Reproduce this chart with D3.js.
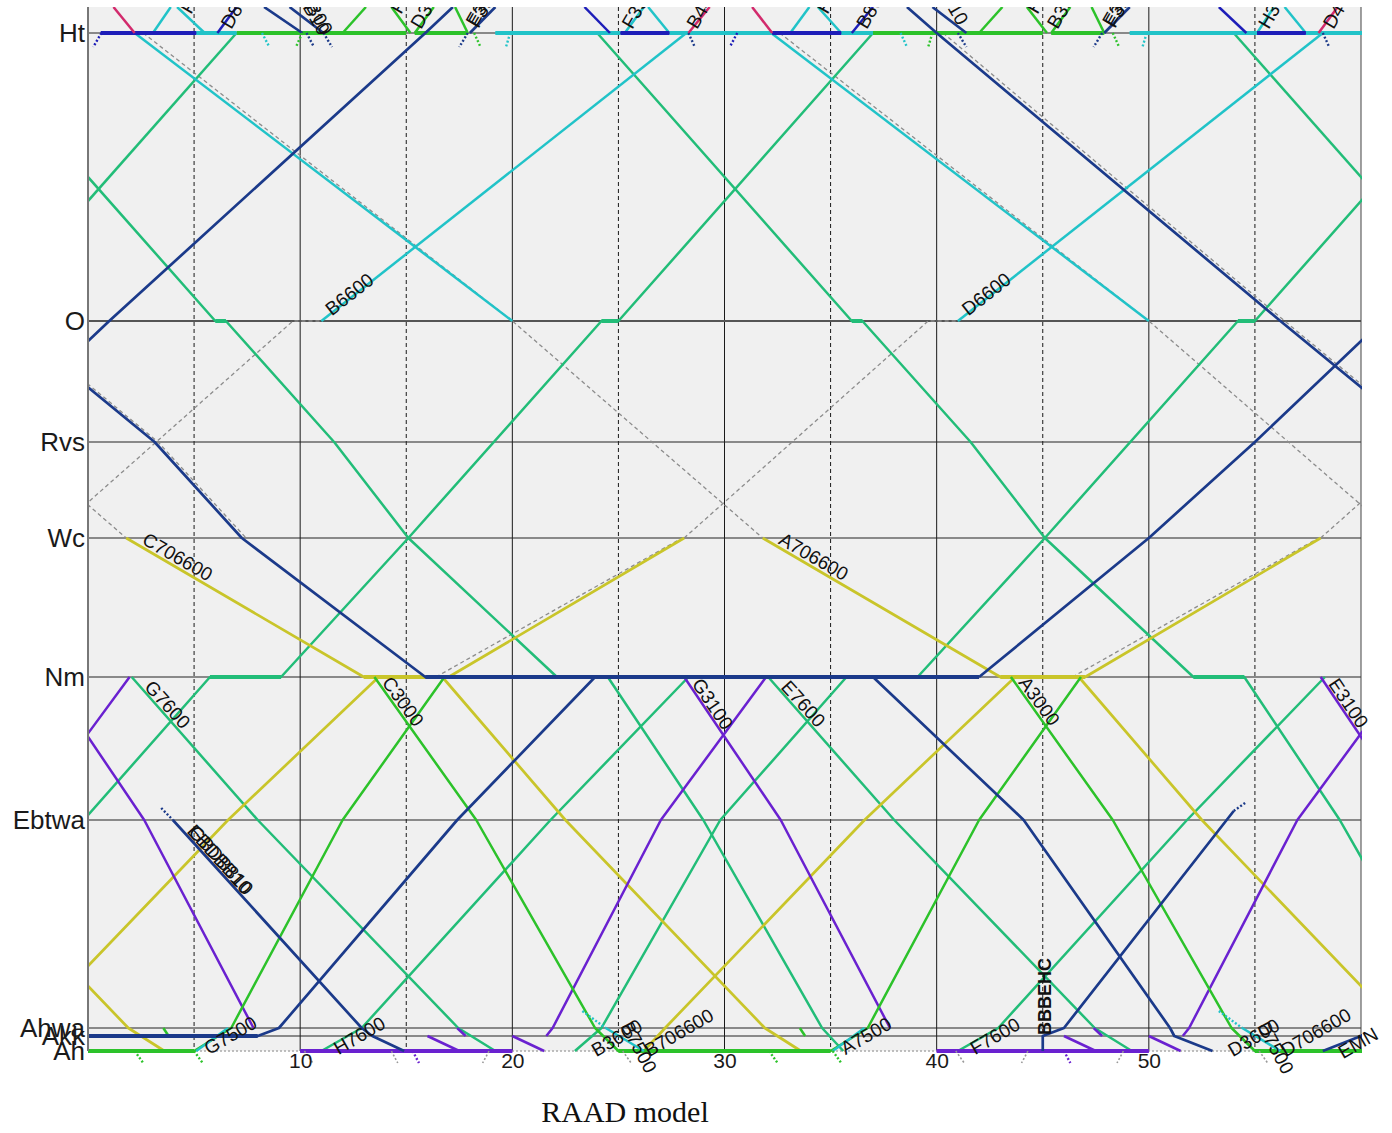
<!DOCTYPE html>
<html>
<head>
<meta charset="utf-8">
<script src="https://cdn.jsdelivr.net/npm/d3@7"></script>
<style>
  body { margin: 0; background: #fff; }
  svg { display: block; font-family: "Liberation Sans", Arial, sans-serif; }
</style>
</head>
<body>
<div id="chart"></div>
<script>
// stations (km from Ah) and time ticks (minutes)
const stations = ["Ah", "Akk", "Ahwa", "Ebtwa", "Nm", "Wc", "Rvs", "O", "Ht"];
const stationKm = [0, 1.5, 2.3, 23.1, 37.4, 51.3, 60.9, 73.0, 101.8];
const timeTicks = [10, 20, 30, 40, 50];
const halfTicks = [5, 15, 25, 35, 45, 55];

// train paths: [minute, station or km]
const tealTrains = [
  [[-6,"Ht"],[6,"O"],[6.5,"O"],[11.6,"Rvs"],[15.1,"Wc"],[22.1,"Nm"],[24.5,"Nm"],[29.0,"Ebtwa"],[34.6,"Ahwa"],[35.6,"Ah"]],
  [[24,"Ht"],[36,"O"],[36.5,"O"],[41.6,"Rvs"],[45.1,"Wc"],[52.1,"Nm"],[54.5,"Nm"],[59.0,"Ebtwa"],[64.6,"Ahwa"],[65.6,"Ah"]],
  [[54,"Ht"],[66,"O"]],
  [[-5,"O"],[7,"Ht"]],
  [[-7.05,"Ah"],[-5.8,"Ahwa"],[-0.2,"Ebtwa"],[5.75,"Nm"],[9.1,"Nm"],[15.1,"Wc"],[24.2,"O"],[25,"O"],[37,"Ht"]],
  [[22.95,"Ah"],[24.2,"Ahwa"],[29.8,"Ebtwa"],[35.75,"Nm"],[39.1,"Nm"],[45.1,"Wc"],[54.2,"O"],[55,"O"],[67,"Ht"]],
  [[11,"Ah"],[12.9,"Ahwa"],[21.8,"Ebtwa"],[28.3,"Nm"]],
  [[41,"Ah"],[42.9,"Ahwa"],[51.8,"Ebtwa"],[58.3,"Nm"]],
  [[2.06,"Nm"],[8.0,"Ebtwa"],[17.45,"Ahwa"],[19.2,"Ah"]],
  [[32.06,"Nm"],[38.0,"Ebtwa"],[47.45,"Ahwa"],[49.2,"Ah"]]
];

const greenTrains = [
  [[-16.5,"Nm"],[-11.7,"Ebtwa"],[-6.1,"Ahwa"],[-5,"Ah"],[5,"Ah"],[6.75,"Ahwa"],[12.0,"Ebtwa"],[16.8,"Nm"]],
  [[13.5,"Nm"],[18.3,"Ebtwa"],[23.9,"Ahwa"],[25,"Ah"],[35,"Ah"],[36.75,"Ahwa"],[42.0,"Ebtwa"],[46.8,"Nm"]],
  [[43.5,"Nm"],[48.3,"Ebtwa"],[53.9,"Ahwa"],[55,"Ah"],[65,"Ah"]],
  [[3.55,"Ahwa"],[3.8,"Akk"]], [[33.55,"Ahwa"],[33.8,"Akk"]],
  [[7,"Ht"],[15,"Ht"]], [[15.4,"Ht"],[17.9,"Ht"]], [[37,"Ht"],[45,"Ht"]], [[45.4,"Ht"],[47.9,"Ht"]],
  [[12.0,"Ht"],[13.1,104.4]], [[14.3,104.4],[15.2,"Ht"]], [[42.0,"Ht"],[43.1,104.4]], [[44.25,104.4],[45.2,"Ht"]],
  [[15.4,"Ht"],[16.3,104.4]], [[17.3,104.4],[17.9,"Ht"]], [[45.4,"Ht"],[46.3,104.4]], [[47.3,104.4],[47.9,"Ht"]]
];

const cyanTrains = [
  [[2.2,"Ht"],[20,"O"]], [[32.2,"Ht"],[50,"O"]],
  [[11,"O"],[28.2,"Ht"]], [[41,"O"],[58.2,"Ht"]],
  [[5.1,"Ht"],[7.0,"Ht"]], [[19.2,"Ht"],[25.1,"Ht"]], [[27.4,"Ht"],[32.25,"Ht"]],
  [[35.5,"Ht"],[37,"Ht"]], [[49.1,"Ht"],[55.1,"Ht"]], [[57.4,"Ht"],[60.5,"Ht"]],
  [[3.06,"Ht"],[3.9,104.4]], [[4.2,104.4],[5.5,"Ht"]], [[25.3,"Ht"],[26.2,104.4]], [[26.4,104.4],[27.4,"Ht"]],
  [[33.1,"Ht"],[34.0,104.4]], [[34.4,104.4],[35.5,"Ht"]], [[55.1,"Ht"],[55.9,104.4]], [[56.4,104.4],[57.4,"Ht"]],
  [[5.1,"Ah"],[6.6,"Ahwa"]], [[35.1,"Ah"],[36.6,"Ahwa"]],
  [[24.4,"Ahwa"],[26.2,"Ah"]], [[54.4,"Ahwa"],[56.2,"Ah"]]
];

const blueTrains = [
  [[0.6,"Ht"],[5.1,"Ht"]], [[25.1,"Ht"],[27.4,"Ht"]], [[32.25,"Ht"],[35.5,"Ht"]], [[55.1,"Ht"],[57.4,"Ht"]],
  [[6.1,"Ht"],[7.0,104.4]], [[23.4,104.4],[24.6,"Ht"]], [[36.0,"Ht"],[37.0,104.4]], [[53.3,104.4],[54.6,"Ht"]]
];

const magentaTrains = [
  [[1.2,104.4],[2.2,"Ht"]], [[28.3,"Ht"],[29.3,104.4]], [[31.3,104.4],[32.25,"Ht"]], [[58.0,"Ht"],[58.9,104.4]]
];

const yellowTrains = [
  [[1.8,"Wc"],[13.0,"Nm"],[16.7,"Nm"],[22.5,"Ebtwa"],[31.9,"Ahwa"],[33.6,"Ah"]],
  [[31.8,"Wc"],[43.0,"Nm"],[46.7,"Nm"],[52.5,"Ebtwa"],[61.9,"Ahwa"],[63.6,"Ah"]],
  [[-7.5,"Ebtwa"],[1.9,"Ahwa"],[3.6,"Ah"]],
  [[-3.8,"Ah"],[-2.8,"Ahwa"],[6.6,"Ebtwa"],[13.7,"Nm"],[17.0,"Nm"],[28.1,"Wc"]],
  [[26.2,"Ah"],[27.2,"Ahwa"],[36.6,"Ebtwa"],[43.7,"Nm"],[47.0,"Nm"],[58.1,"Wc"]]
];

const purpleTrains = [
  [[-1.9,"Nm"],[2.65,"Ebtwa"],[7.8,"Ahwa"]],
  [[28.1,"Nm"],[32.65,"Ebtwa"],[37.8,"Ahwa"]],
  [[58.1,"Nm"],[62.65,"Ebtwa"]],
  [[-8.4,"Akk"],[-8.1,"Ahwa"],[-3.0,"Ebtwa"],[1.96,"Nm"]],
  [[21.6,"Akk"],[21.9,"Ahwa"],[27.0,"Ebtwa"],[31.96,"Nm"]],
  [[51.6,"Akk"],[51.9,"Ahwa"],[57.0,"Ebtwa"],[61.96,"Nm"]],
  [[10,"Ah"],[20,"Ah"]], [[40,"Ah"],[50,"Ah"]],
  [[16.0,"Akk"],[17.5,"Ah"]], [[17.4,"Ahwa"],[17.8,"Akk"]], [[20.0,"Akk"],[21.5,"Ah"]],
  [[46.0,"Akk"],[47.5,"Ah"]], [[47.4,"Ahwa"],[47.8,"Akk"]], [[50.0,"Akk"],[51.5,"Ah"]]
];

const navyTrains = [
  [[-5,"Rvs"],[1.0,"O"],[15.9,"Ht"],[17.2,104.4]],
  [[42.0,"Nm"],[50.0,"Wc"],[55.0,"Rvs"],[61.0,"O"]],
  [[38.6,104.4],[40.0,"Ht"],[56.2,"O"],[63.14,"Rvs"]],
  [[-3.8,"O"],[3.14,"Rvs"],[7.25,"Wc"],[15.9,"Nm"],[42.0,"Nm"]],
  [[-1.8,"Ah"],[0,"Akk"],[8.0,"Akk"],[9.0,"Ahwa"],[17.4,"Ebtwa"],[23.9,"Nm"]],
  [[37.0,"Nm"],[44.1,"Ebtwa"],[51.0,"Ahwa"],[51.2,"Akk"],[53.0,"Ah"]],
  [[58.2,"Ah"],[60,"Akk"],[61,"Akk"]],
  [[4.0,"Ebtwa"],[12.9,"Ahwa"],[13.4,"Akk"],[14.9,"Ah"]],
  [[45.0,"Ah"],[45.0,"Akk"],[46.0,"Ahwa"],[54.0,24.0]],
  [[8.3,104.4],[10.1,"Ht"]], [[9.5,104.4],[11.1,"Ht"]], [[18.0,"Ht"],[19.2,104.4]],
  [[39.8,104.4],[41.4,"Ht"]], [[47.9,"Ht"],[49.1,104.4]]
];

// planned (not run) paths
const plannedPaths = [
  [[-1.9,"Wc"],[9.66,"O"],[11.0,"O"]], [[28.1,"Wc"],[39.6,"O"],[41.0,"O"]], [[58.1,"Wc"],[69.6,"O"]],
  [[-10,"O"],[1.8,"Wc"]], [[2.6,"Ht"],[20,"O"],[31.8,"Wc"]], [[32.6,"Ht"],[50,"O"],[61.8,"Wc"]],
  [[16.4,"Nm"],[28.0,"Wc"]], [[46.4,"Nm"],[58.0,"Wc"]],
  [[-3.6,"O"],[3.3,"Rvs"],[7.45,"Wc"]], [[40.3,"Ht"],[56.4,"O"],[63.3,"Rvs"]]
];

// short dotted stubs past the terminals
const navyStubs = [
  [[10.3,"Ht"],[10.65,100.4]], [[11.1,"Ht"],[11.5,100.4]], [[17.9,"Ht"],[17.5,100.4]], [[28.3,"Ht"],[28.6,100.4]],
  [[41.0,"Ht"],[41.4,100.4]], [[47.8,"Ht"],[47.4,100.4]], [[58.2,"Ht"],[58.5,100.4]],
  [[3.45,24.3],[4.0,"Ebtwa"]], [[54.0,24.0],[54.6,24.9]]
];
const cyanStubs = [
  [[8.2,"Ht"],[8.55,100.4]], [[19.9,"Ht"],[19.7,100.4]], [[38.3,"Ht"],[38.6,100.4]], [[49.9,"Ht"],[49.7,100.4]],
  [[23.3,4.0],[24.4,"Ahwa"]], [[53.3,4.0],[54.4,"Ahwa"]]
];
const greenStubs = [
  [[10.1,"Ht"],[9.8,100.4]], [[18.2,"Ht"],[18.5,100.4]], [[39.8,"Ht"],[39.6,100.4]], [[48.3,"Ht"],[48.6,100.4]],
  [[2.2,"Ah"],[2.6,-1.2]], [[5.0,"Ah"],[5.4,-1.2]], [[32.1,"Ah"],[32.5,-1.2]], [[35.1,"Ah"],[35.5,-1.2]]
];
const blueStubs = [[[0.63,"Ht"],[0.25,100.4]], [[30.6,"Ht"],[30.25,100.4]]];
const purpleStubs = [[[15.3,"Ah"],[15.6,-1.2]], [[46.0,"Ah"],[46.3,-1.2]]];
const grayStubs = [
  [[10.2,"Ah"],[10.6,-1.2]], [[14.3,"Ah"],[14.6,-1.2]], [[18.9,"Ah"],[18.6,-1.2]], [[25.2,"Ah"],[25.6,-1.2]],
  [[40.9,"Ah"],[41.3,-1.2]], [[44.3,"Ah"],[44.0,-1.2]], [[48.8,"Ah"],[48.5,-1.2]], [[55.2,"Ah"],[55.6,-1.2]]
];

// train number labels: [text, minute, km, angle]
const trainLabels = [
  ["B6600", 11.55, 73.3, -38], ["D6600", 41.55, 73.3, -38],
  ["C706600", 2.45, 50.6, 30], ["A706600", 32.45, 50.6, 30],
  ["G7600", 2.55, 36.2, 48], ["E7600", 32.55, 36.2, 48],
  ["C3000", 13.75, 36.7, 54], ["A3000", 43.75, 36.7, 54],
  ["G3100", 28.35, 36.6, 56], ["E3100", 58.35, 36.6, 56],
  ["EBDBB10", 4.55, 21.8, 48], ["GBDB810", 4.62, 21.7, 48],
  ["G7500", 5.75, -0.6, -30], ["H7600", 11.85, -0.6, -30],
  ["B3600", 24.0, -0.8, -30], ["B7500", 25.0, 2.4, 62], ["B706600", 26.5, -0.8, -30],
  ["A7500", 35.75, -0.6, -30], ["F7600", 41.85, -0.6, -30],
  ["D3600", 54.0, -0.8, -30], ["D7500", 55.0, 2.4, 62], ["D706600", 56.5, -0.8, -30],
  ["EMN", 59.2, -1.0, -30]
];
const topLabels = [
  ["D80", 6.75, 102.1, -60], ["D39", 15.7, 102.1, -60], ["F35", 25.65, 102.1, -60], ["B44", 28.7, 102.1, -60],
  ["B80", 36.7, 102.1, -60], ["B39", 45.7, 102.1, -60], ["H35", 55.65, 102.1, -60], ["D44", 58.7, 102.1, -60],
  ["F39", 4.85, 103.6, -60], ["F80", 14.75, 103.6, -60], ["H39", 34.85, 103.6, -60], ["H80", 44.75, 103.6, -60],
  ["10", 40.5, 104.3, 60], ["B10", 10.1, 104.4, 60], ["B00", 10.25, 104.4, 60],
  ["E39", 18.3, 102.3, -60], ["F39", 18.4, 102.2, -60], ["E39", 48.3, 102.3, -60], ["F39", 48.4, 102.2, -60]
];

const W = 1392, H = 1133;
const plotLeft = 88, plotRight = 1361, plotTop = 7, plotBottom = 1051;

const svg = d3.select("#chart").append("svg").attr("width", W).attr("height", H);

const x = d3.scaleLinear().domain([0, 60]).range([plotLeft, plotRight]);
const y = d3.scaleLinear().domain([0, 101.8]).range([plotBottom, 33]);
const km = {};
stations.forEach((s, i) => km[s] = stationKm[i]);
const yv = v => y(typeof v === "string" ? km[v] : v);

svg.append("rect").attr("x", plotLeft).attr("y", plotTop)
  .attr("width", plotRight - plotLeft).attr("height", plotBottom - plotTop).attr("fill", "#f0f0f0");

svg.append("clipPath").attr("id", "plot")
  .append("rect").attr("x", plotLeft).attr("y", plotTop)
  .attr("width", plotRight - plotLeft + 1).attr("height", 1070 - plotTop);

// grid
const grid = svg.append("g");
grid.selectAll(".vs").data(timeTicks).enter().append("line")
  .attr("x1", d => x(d)).attr("x2", d => x(d)).attr("y1", plotTop).attr("y2", plotBottom)
  .attr("stroke", "#1a1a1a").attr("stroke-width", 1);
grid.selectAll(".vd").data(halfTicks).enter().append("line")
  .attr("x1", d => x(d)).attr("x2", d => x(d)).attr("y1", plotTop).attr("y2", plotBottom)
  .attr("stroke", "#1a1a1a").attr("stroke-width", 1).attr("stroke-dasharray", "4,3");
grid.selectAll(".hs").data(stationKm.slice(1)).enter().append("line")
  .attr("x1", plotLeft).attr("x2", plotRight).attr("y1", d => y(d)).attr("y2", d => y(d))
  .attr("stroke", (d, i) => stations[i + 1] === "O" ? "#555" : "#222")
  .attr("stroke-width", (d, i) => stations[i + 1] === "O" ? 1.8 : 1.2);
grid.append("line").attr("x1", plotLeft).attr("x2", plotRight).attr("y1", plotBottom).attr("y2", plotBottom)
  .attr("stroke", "#aaa").attr("stroke-width", 1.5).attr("stroke-dasharray", "2,2");
grid.append("line").attr("x1", plotRight).attr("x2", plotRight).attr("y1", plotTop).attr("y2", plotBottom)
  .attr("stroke", "#444").attr("stroke-width", 1);

const plot = svg.append("g").attr("clip-path", "url(#plot)");
const lineGen = d3.line().x(d => x(d[0])).y(d => yv(d[1]));

function drawPaths(data, color, width, dash) {
  const g = plot.append("g");
  g.selectAll("path").data(data).enter().append("path")
    .attr("d", lineGen).attr("fill", "none")
    .attr("stroke", color).attr("stroke-width", width)
    .attr("stroke-dasharray", dash || null)
    .attr("stroke-linejoin", "round");
  if (dash) return;
  // dwell at a station: thicker flat stroke
  const flats = [];
  data.forEach(p => {
    for (let i = 1; i < p.length; i++) {
      if (p[i][1] === p[i - 1][1] && p[i][0] !== p[i - 1][0]) flats.push([p[i - 1], p[i]]);
    }
  });
  g.selectAll("line").data(flats).enter().append("line")
    .attr("x1", d => x(d[0][0])).attr("x2", d => x(d[1][0]))
    .attr("y1", d => yv(d[0][1])).attr("y2", d => yv(d[1][1]))
    .attr("stroke", color).attr("stroke-width", 4);
}

drawPaths(plannedPaths, "#8c8c8c", 1.3, "4,3");
drawPaths(tealTrains, "#22bd78", 2.5);
drawPaths(yellowTrains, "#c9c52a", 2.7);
drawPaths(purpleTrains, "#6a21d0", 2.5);
drawPaths(greenTrains, "#2cc22a", 2.5);
drawPaths(cyanTrains, "#21c3c8", 2.5);
drawPaths(blueTrains, "#1d1db8", 2.5);
drawPaths(magentaTrains, "#d22a6c", 2.5);
drawPaths(navyTrains, "#1b3a8a", 2.7);
drawPaths(navyStubs, "#1b3a8a", 2.4, "2,2");
drawPaths(cyanStubs, "#21c3c8", 2.4, "2,2");
drawPaths(greenStubs, "#2cc22a", 2.4, "2,2");
drawPaths(blueStubs, "#1d1db8", 2.4, "2,2");
drawPaths(purpleStubs, "#6a21d0", 2.4, "2,2");
drawPaths(grayStubs, "#999", 1.6, "2,2");

// left axis
svg.append("line").attr("x1", plotLeft).attr("x2", plotLeft).attr("y1", plotTop).attr("y2", plotBottom)
  .attr("stroke", "#777").attr("stroke-width", 2);

const yAxis = svg.append("g").attr("transform", `translate(${plotLeft},0)`)
  .call(d3.axisLeft(y).tickValues(stationKm).tickFormat((d, i) => stations[i]).tickSize(0).tickPadding(3));
yAxis.select(".domain").remove();
yAxis.selectAll("text").attr("font-size", 26).attr("fill", "#1a1a1a")
  .attr("font-family", "'Liberation Sans', Arial, sans-serif");

const xAxis = svg.append("g").attr("transform", `translate(0,${plotBottom})`)
  .call(d3.axisBottom(x).tickValues(timeTicks).tickSize(0).tickPadding(2));
xAxis.select(".domain").remove();
xAxis.selectAll("text").attr("font-size", 21).attr("fill", "#1a1a1a")
  .attr("font-family", "'Liberation Sans', Arial, sans-serif");

// train labels
svg.append("g").selectAll("text").data(trainLabels).enter().append("text")
  .attr("transform", d => `translate(${x(d[1])},${y(d[2])}) rotate(${d[3]})`)
  .attr("dy", -2).attr("font-size", 19).attr("fill", "#111").text(d => d[0]);

svg.append("g").attr("clip-path", "url(#plot)")
  .selectAll("text").data(topLabels).enter().append("text")
  .attr("transform", d => `translate(${x(d[1])},${y(d[2])}) rotate(${d[3]})`)
  .attr("font-size", 19).attr("fill", "#111").text(d => d[0]);

svg.append("text")
  .attr("transform", `translate(${x(45.4)},${y(1.6)}) rotate(-90)`)
  .attr("font-size", 18).attr("font-weight", "bold").attr("fill", "#111").text("BBBEHC");

svg.append("text").attr("x", 625).attr("y", 1122).attr("text-anchor", "middle")
  .attr("font-family", "'Liberation Serif', 'DejaVu Serif', serif").attr("font-size", 30)
  .attr("fill", "#111").text("RAAD model");
</script>
</body>
</html>
